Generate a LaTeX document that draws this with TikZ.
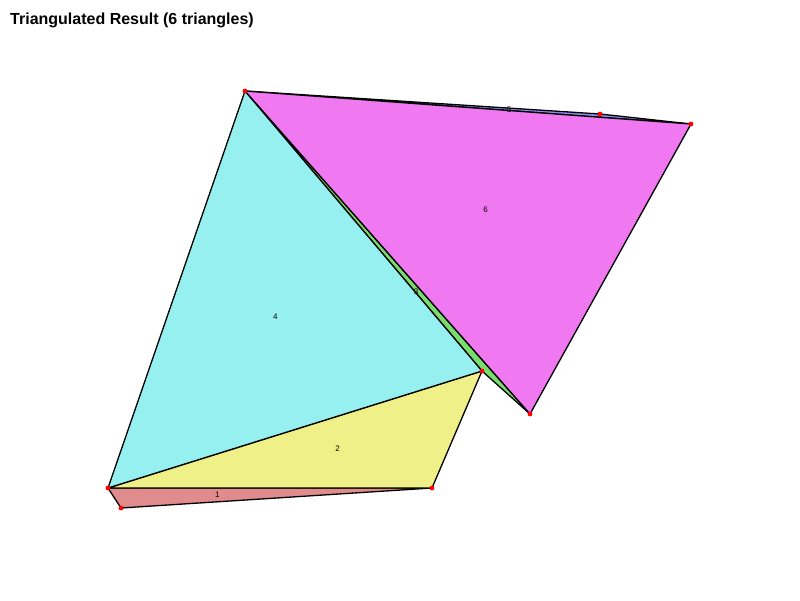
\documentclass[tikz,border=0pt]{standalone}
\usepackage{fontspec}
\setmainfont{Liberation Sans}
\usetikzlibrary{calc}
\definecolor{triRed}{RGB}{225,140,140}
\definecolor{triYel}{RGB}{240,240,136}
\definecolor{triGrn}{RGB}{120,220,110}
\definecolor{triCya}{RGB}{150,240,240}
\definecolor{triBlu}{RGB}{140,140,240}
\definecolor{triMag}{RGB}{240,120,240}
\tikzset{
  tri/.style   = {draw=black, line width=1.3pt, line join=round},
  num/.style   = {font=\fontsize{8}{9}\selectfont, inner sep=0pt, xshift=-3pt},
  vtx/.style   = {fill=red},
  ttl/.style   = {anchor=west, font=\fontsize{16}{18}\selectfont\bfseries, inner sep=0pt},
}

\begin{document}
\begin{tikzpicture}[x=1pt,y=-1pt]
\useasboundingbox (0,0) rectangle (800,600);

% ===== vertices =====
\coordinate (top)   at (245,91);
\coordinate (mid)   at (600,114);
\coordinate (right) at (691,124);
\coordinate (tip)   at (530,414);
\coordinate (knee)  at (482,371);
\coordinate (left)  at (108,488);
\coordinate (base)  at (432,488);
\coordinate (foot)  at (121,508);

% ===== triangles =====
\filldraw[tri, fill=triRed] (left) -- (base) -- (foot) -- cycle;
\filldraw[tri, fill=triYel] (left) -- (base) -- (knee) -- cycle;
\filldraw[tri, fill=triGrn] (top) -- (knee) -- (tip) -- cycle;
\filldraw[tri, fill=triCya] (top) -- (left) -- (knee) -- cycle;
\filldraw[tri, fill=triBlu] (top) -- (mid) -- (right) -- cycle;
\filldraw[tri, fill=triMag] (top) -- (right) -- (tip) -- cycle;

% ===== labels =====
\node[num] (n1) at (barycentric cs:left=1,base=1,foot=1) {1};
\node[num] (n2) at (barycentric cs:left=1,base=1,knee=1) {2};
\node[num] (n3) at (barycentric cs:top=1,knee=1,tip=1) {3};
\node[num] (n4) at (barycentric cs:top=1,left=1,knee=1) {4};
\node[num] (n5) at (barycentric cs:top=1,mid=1,right=1) {5};
\node[num] (n6) at (barycentric cs:top=1,right=1,tip=1) {6};

\foreach \v in {top,mid,right,tip,knee,left,base,foot}{\fill[vtx] (\v) circle (2.4);}

\node[ttl] (title) at (10,20) {Triangulated Result (6 triangles)};
\end{tikzpicture}
\end{document}
